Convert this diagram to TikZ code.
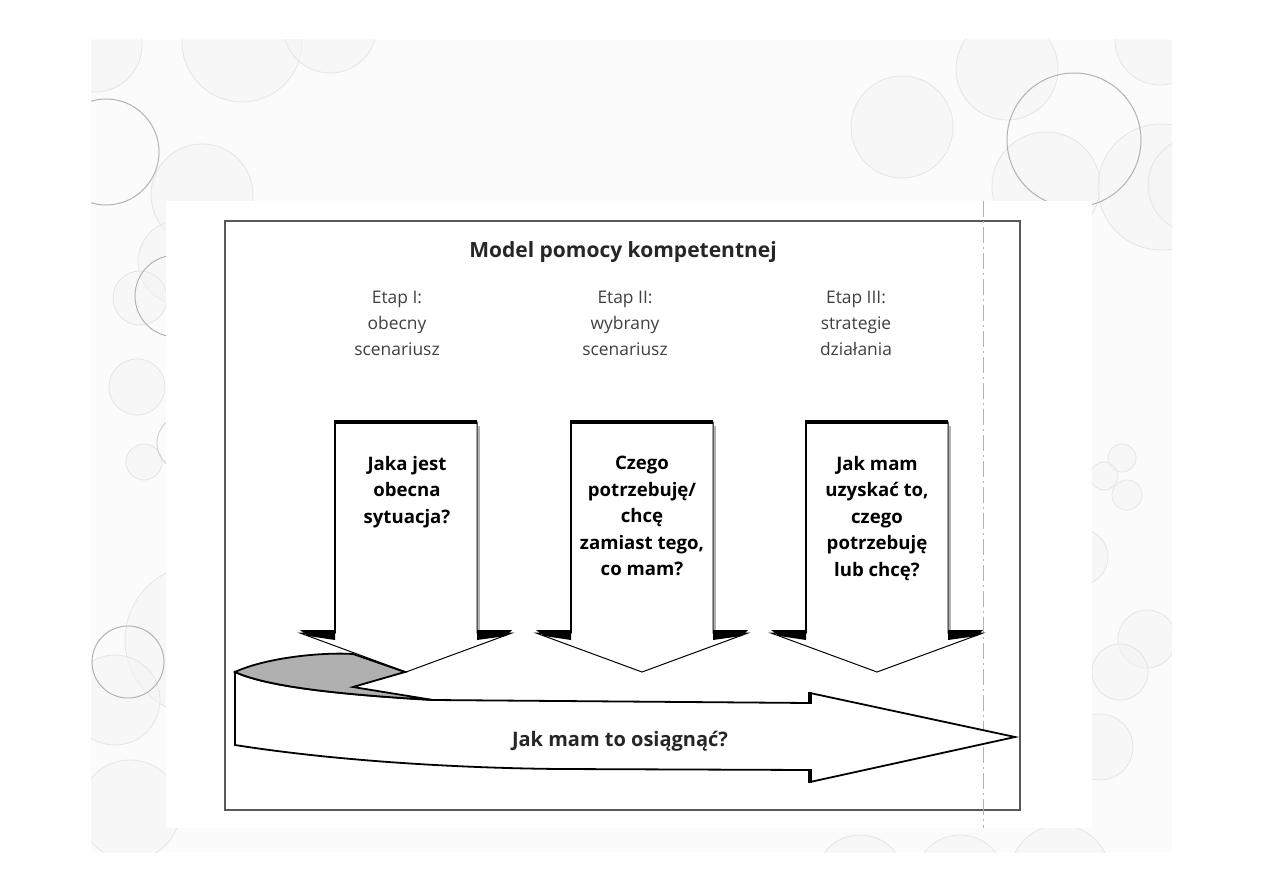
\documentclass[tikz,border=0pt]{standalone}
\usepackage{fontspec}
\setmainfont{Open Sans}
\usetikzlibrary{positioning}

\tikzset{
  faintcirc/.style={draw=gray!20, fill=gray!8, fill opacity=0.5},
  ringcirc/.style={draw=gray!60, line width=0.5pt},
  stagetext/.style={align=center, text=black!75, inner sep=0pt, font=\fontsize{8.7}{13}\selectfont},
  questext/.style={align=center, inner sep=0pt, font=\bfseries\fontsize{9.3}{13.2}\selectfont},
  downarrow/.style={draw=black, fill=white, line width=0.5pt},
}

\begin{document}
\begin{tikzpicture}[x=0.5pt, y=-0.5pt]
  \useasboundingbox (0,0) rectangle (1263,893);

  % slide background with circles
  \begin{scope}
    \clip (91,40) rectangle (1172,852);
    \fill[gray!3] (91,40) rectangle (1172,852);
    \foreach \cx/\cy/\r in {95/45/47, 242/42/60, 330/26/47, 202/195/51, 180/262/42,
        140/298/27, 137/387/28, 144/462/18, 200/640/75, 115/700/45, 130/810/50,
        902/127/51, 1007/69/51, 1046/186/54, 1160/40/45, 1161/187/63, 1196/185/48,
        1122/458/14, 1104/476/14, 1127/495/15, 1080/557/28, 1147/639/29, 1120/672/28,
        1100/747/33, 860/880/45, 960/880/45, 1060/875/50}
      \draw[faintcirc] (\cx,\cy) circle[radius=\r];
    \foreach \cx/\cy/\r in {106/152/53, 176/296/41, 128/662/36, 1074/140/67}
      \draw[ringcirc] (\cx,\cy) circle[radius=\r];
    \draw[draw=gray!40] (185,443) circle[radius=28];
  \end{scope}

  % scanned page
  \fill[white] (166,201) rectangle (1092,828);
  \draw[gray!70!black, line width=0.7pt] (225,221) rectangle (1020,810);
  \draw[gray!60, line width=0.5pt, dash pattern=on 8pt off 2pt on 1pt off 2pt] (983,201) -- (983,828);

  \node[font=\bfseries\fontsize{10.5}{12}\selectfont, text=black!85] (title) at (623,252) {Model pomocy kompetentnej};

  % stage arrows
  \foreach \c in {406, 642, 877} {
    \draw[downarrow] (\c-71,422) -- (\c+71,422) -- (\c+71,633) -- (\c+106,633)
      -- (\c,672) -- (\c-106,633) -- (\c-71,633) -- cycle;
    \draw[line width=2pt] (\c-72,422) -- (\c+71,422);
    \draw[line width=1.3pt] (\c-71,422) -- (\c-71,633);
    \draw[gray!60, line width=0.6pt] (\c+73,426) -- (\c+73,631);
    \fill (\c-106,630) -- (\c-71,630) -- (\c-71,640) -- (\c-98,636) -- cycle;
    \fill (\c+71,630) -- (\c+106,630) -- (\c+100,636) -- (\c+71,640) -- cycle;
  }

  \node[stagetext] (etap1) at (397,323) {Etap I:\\obecny\\scenariusz};
  \node[stagetext] (etap2) at (625,323) {Etap II:\\wybrany\\scenariusz};
  \node[stagetext] (etap3) at (856,323) {Etap III:\\strategie\\działania};

  \node[questext, anchor=north] (q1) at (407,456) {Jaka jest\\obecna\\sytuacja?};
  \node[questext, anchor=north] (q2) at (642,456) {Czego\\potrzebuję/\\chcę\\zamiast tego,\\co mam?};
  \node[questext, anchor=north] (q3) at (877,456) {Jak mam\\uzyskać to,\\czego\\potrzebuję\\lub chcę?};

  % ribbon arrow
  \filldraw[fill=white, draw=black, line width=0.9pt] (235,672) -- (235,745)
    .. controls (330,760) and (450,768) .. (560,769) -- (810,770) -- (810,782)
    -- (1015,737) -- (810,693) -- (810,703) -- (433,700)
    .. controls (350,695) and (270,688) .. (235,672) -- cycle;
  \filldraw[fill=gray!62, draw=black, line width=0.9pt] (235,672)
    .. controls (265,658) and (320,652) .. (353,654) -- (405,672) -- (353,687) -- (433,700)
    .. controls (350,695) and (270,688) .. (235,672) -- cycle;
  \draw[line width=1.4pt] (235,672) -- (235,745);
  \draw[line width=2pt] (810,692) -- (810,704);
  \draw[line width=2pt] (810,769) -- (810,783);

  \node[font=\bfseries\fontsize{10}{12}\selectfont, text=black!85] (reach) at (620,741) {Jak mam to osiągnąć?};
\end{tikzpicture}
\end{document}
